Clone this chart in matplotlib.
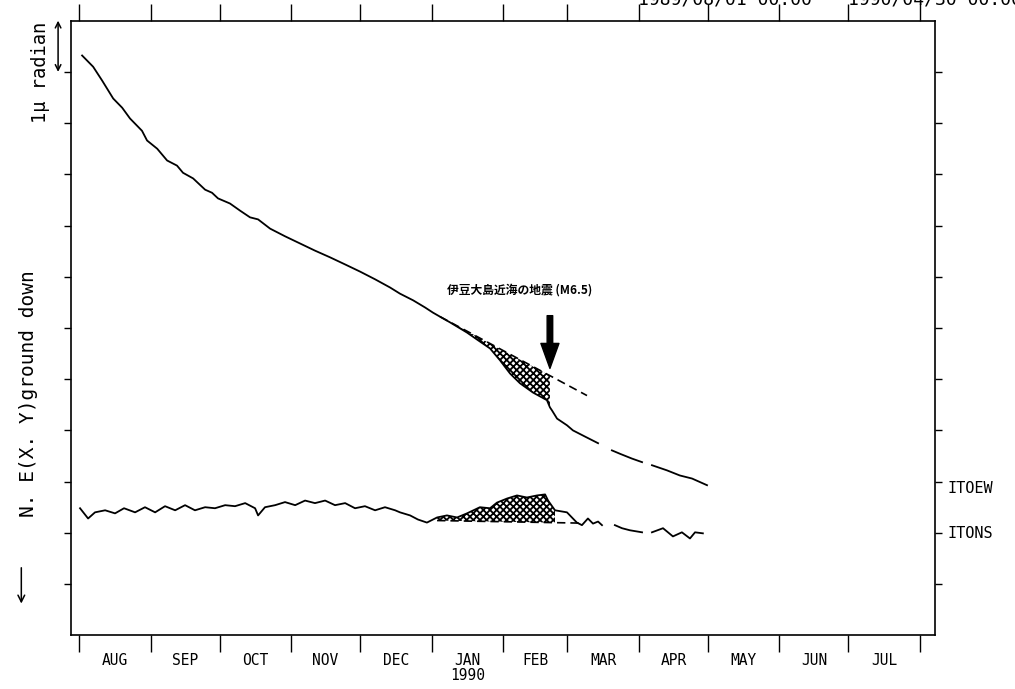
import numpy as np
import matplotlib
matplotlib.use("Agg")
import matplotlib.pyplot as plt

plt.rcParams['font.family'] = ['DejaVu Sans Mono', 'Noto Sans CJK JP']
plt.rcParams['hatch.linewidth'] = 1.3

# days since 1989/08/01, tilt in micro-radian (1 tick = 1 urad)
ew_days = [1.3, 6.1, 10.0, 14.8, 18.7, 22.1, 27.3, 29.5, 33.9, 38.2, 42.5, 45.1,
           49.5, 54.7, 57.7, 60.3, 65.5, 69.9, 74.2, 77.7, 82.9, 89.4, 95.9,
           102.4, 108.9, 115.5, 122.0, 128.5, 135.0, 139.3, 145.0, 150.2, 153.6,
           156.7, 161.0, 168.4, 173.2, 178.4, 182.7, 187.1, 191.4, 197.0, 203.1,
           204.4, 205.3, 207.5, 211.8, 214.4, 219.6, 225.3,
           np.nan, 231.3, 235.0, 240.0, 244.4,
           np.nan, 248.7, 255.2, 260.8, 266.1, 272.6]
ew_vals = [11.32, 11.10, 10.83, 10.48, 10.30, 10.09, 9.85, 9.66, 9.50, 9.27, 9.17, 9.03,
           8.92, 8.70, 8.64, 8.53, 8.43, 8.29, 8.16, 8.12, 7.94, 7.79, 7.65,
           7.51, 7.38, 7.24, 7.10, 6.95, 6.79, 6.67, 6.54, 6.40, 6.30,
           6.22, 6.11, 5.91, 5.76, 5.60, 5.37, 5.11, 4.92, 4.74, 4.59,
           4.45, 4.39, 4.23, 4.10, 4.00, 3.88, 3.75,
           np.nan, 3.61, 3.54, 3.45, 3.38,
           np.nan, 3.32, 3.22, 3.12, 3.06, 2.93]

ns_days = [0.4, 3.9, 6.9, 11.3, 15.6, 19.5, 24.3, 28.6, 33.0, 37.3, 41.7, 46.0,
           50.3, 54.7, 59.0, 63.4, 67.7, 72.1, 76.4, 77.7, 80.7, 85.1, 89.4, 93.8,
           98.1, 102.4, 106.8, 111.1, 115.5, 119.8, 124.1, 128.5, 132.8, 137.2,
           139.3, 143.7, 147.1, 151.0, 155.4, 159.7, 164.1, 168.4, 174.0, 178.4,
           181.4, 185.8, 190.1, 194.4, 198.8, 202.3, 203.6, 206.6, 211.8, 216.1,
           218.3, 220.9, 223.1, 225.3, 227.0,
           np.nan, 232.6, 235.7, 239.1, 244.4,
           np.nan, 248.7, 253.5, 257.8, 261.7, 265.2, 267.4, 270.8]
ns_vals = [2.48, 2.28, 2.40, 2.44, 2.38, 2.48, 2.40, 2.50, 2.40, 2.52, 2.44, 2.54,
           2.44, 2.50, 2.48, 2.54, 2.52, 2.58, 2.48, 2.34, 2.50, 2.54, 2.60, 2.54,
           2.63, 2.58, 2.63, 2.54, 2.58, 2.48, 2.52, 2.44, 2.50, 2.44,
           2.40, 2.34, 2.26, 2.20, 2.30, 2.34, 2.30, 2.38, 2.50, 2.48,
           2.59, 2.67, 2.73, 2.69, 2.73, 2.75, 2.63, 2.44, 2.40, 2.20,
           2.15, 2.28, 2.18, 2.22, 2.15,
           np.nan, 2.15, 2.09, 2.05, 2.01,
           np.nan, 2.01, 2.09, 1.93, 2.01, 1.89, 2.01, 1.99]

# linear trends drawn as dashed lines before the earthquake
ew_trend_days = [156.7, 220.5]
ew_trend_vals = [6.22, 4.68]
ns_trend_days = [155.4, 217.4]
ns_trend_vals = [2.24, 2.19]
quake_day = 204.4

month_edges = [0, 31, 61, 92, 122, 153, 184, 212, 243, 273, 304, 334, 365]
month_names = ["AUG", "SEP", "OCT", "NOV", "DEC", "JAN\n1990", "FEB", "MAR",
               "APR", "MAY", "JUN", "JUL"]

fig = plt.figure(figsize=(10.15, 6.89), dpi=100)
ax = fig.add_axes([0.070, 0.078, 0.851, 0.892])

ax.plot(ew_days, ew_vals, color="black", lw=1.3)
ax.plot(ns_days, ns_vals, color="black", lw=1.3)
ax.plot(ew_trend_days, ew_trend_vals, color="black", lw=1.2, ls=(0, (5, 3)))
ax.plot(ns_trend_days, ns_trend_vals, color="black", lw=1.2, ls=(0, (5, 3)))

# hatched departure from trend
ed = np.array(ew_days, dtype=float)
ev = np.array(ew_vals, dtype=float)
m = (ed >= ew_trend_days[0]) & (ed <= quake_day + 0.5)
ax.fill_between(ed[m], ev[m], np.interp(ed[m], ew_trend_days, ew_trend_vals),
                facecolor="white", hatch="xxxxx", edgecolor="black", lw=0)
nd = np.array(ns_days, dtype=float)
nv = np.array(ns_vals, dtype=float)
m = (nd >= ns_trend_days[0]) & (nd <= 207)
ax.fill_between(nd[m], nv[m], np.interp(nd[m], ns_trend_days, ns_trend_vals),
                where=nv[m] >= np.interp(nd[m], ns_trend_days, ns_trend_vals) - 0.02,
                facecolor="white", hatch="xxxxx", edgecolor="black", lw=0,
                interpolate=True)

ax.annotate("", xy=(quake_day, 5.21), xytext=(quake_day, 6.24),
            arrowprops=dict(width=4, headwidth=13, headlength=18,
                            facecolor="black", edgecolor="black"))
ax.text(quake_day - 13, 6.75, "伊豆大島近海の地震 (M6.5)", ha="center", va="center",
        fontsize=8.5, fontweight="bold", family=["Noto Sans CJK JP", "DejaVu Sans"])

ax.set_xlim(-3.5, 371.5)
ax.set_ylim(0, 12)

ax.set_yticks(range(1, 12))
ax.tick_params(axis="y", which="major", direction="out", length=5, width=1,
               left=True, right=True, labelleft=False, labelright=False)
ax.set_xticks(month_edges)
ax.tick_params(axis="x", which="major", direction="out", length=12, width=1,
               top=True, bottom=True, labelbottom=False, labeltop=False)
mids = [(a + b) / 2 for a, b in zip(month_edges[:-1], month_edges[1:])]
ax.set_xticks(mids, minor=True)
ax.set_xticklabels(month_names, minor=True, fontsize=10.5, va="top",
                   linespacing=0.95)
ax.tick_params(axis="x", which="minor", length=0, pad=13)
for s in ax.spines.values():
    s.set_linewidth(1.2)

# scale bar 1 urad
ax.annotate("", xy=(-0.015, 12), xytext=(-0.015, 11),
            xycoords=ax.get_yaxis_transform(), textcoords=ax.get_yaxis_transform(),
            arrowprops=dict(arrowstyle="<->", lw=1.1, color="black",
                            shrinkA=0, shrinkB=0))
fig.text(0.040, 0.895, "1\u03bc radian", rotation=90, ha="center", va="center",
         fontsize=13.5)
fig.text(0.028, 0.428, "N. E(X. Y)ground down", rotation=90, ha="center",
         va="center", fontsize=14)
fig.add_artist(matplotlib.patches.FancyArrowPatch(
    (0.021, 0.180), (0.021, 0.120), transform=fig.transFigure,
    arrowstyle="->", mutation_scale=12, lw=1.1, color="black"))

ax.text(1.015, 2.87, "ITOEW", transform=ax.get_yaxis_transform(),
        va="center", ha="left", fontsize=11)
ax.text(1.015, 1.99, "ITONS", transform=ax.get_yaxis_transform(),
        va="center", ha="left", fontsize=11)

# run header, cut by the top edge like the original plot
fig.text(0.800, 1.0, "1989/08/01 00:00", ha="right", va="center", fontsize=13)
fig.text(0.835, 1.0, "1990/04/30 00:00", ha="left", va="center", fontsize=13)

fig.savefig("out.png", dpi=100)
